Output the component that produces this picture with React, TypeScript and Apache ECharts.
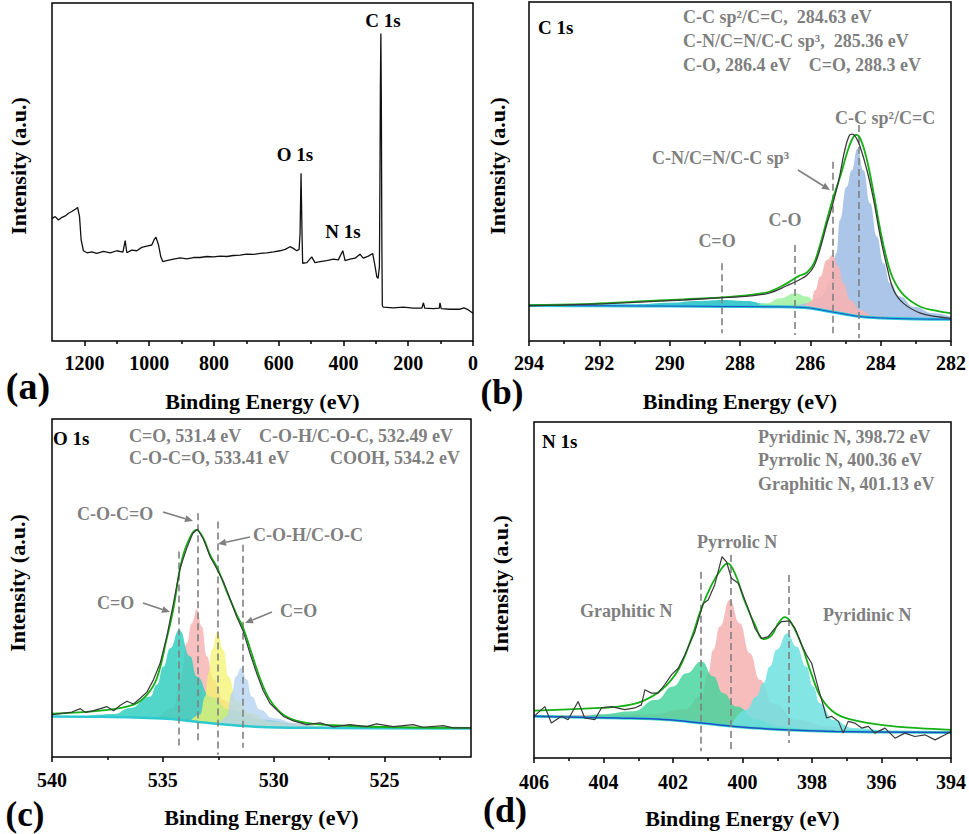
import React, { useEffect, useRef } from "react";
import * as echarts from "echarts";

const FONT = '"Liberation Serif", "Times New Roman", serif';
const GRAY = "#7f7f7f";

// ---------- Panel (a): survey spectrum ----------
const ticksA = [0, 200, 400, 600, 800, 1000, 1200];
const minorA = [100, 300, 500, 700, 900, 1100];
const surveyA = [
  [1300, 36.3], [1290, 36.8], [1280, 35.8], [1269, 36.6], [1259, 37.0], [1249, 37.8], [1239, 38.3],
  [1228, 39.0], [1221, 39.5], [1215, 36.8], [1210, 29.9], [1203, 26.7], [1192, 26.1], [1177, 26.4],
  [1162, 25.9], [1141, 26.5], [1120, 26.1], [1100, 26.7], [1081, 26.3], [1074, 29.7], [1069, 26.1],
  [1054, 26.9], [1038, 26.7], [1023, 27.7], [1007, 28.1], [992, 28.4], [985, 29.9], [979, 30.7],
  [971, 28.4], [964, 24.9], [958, 23.5], [946, 23.8], [925, 24.2], [904, 24.6], [884, 24.3],
  [863, 24.7], [843, 24.7], [822, 25.0], [801, 24.9], [781, 25.1], [760, 25.0], [740, 25.3],
  [719, 25.4], [699, 25.7], [678, 25.6], [657, 25.9], [637, 26.1], [616, 26.4], [596, 26.7],
  [580, 27.1], [565, 27.9], [555, 27.4], [544, 26.7], [537, 27.1], [534, 31.9], [531, 49.6],
  [528, 31.9], [526, 23.0], [513, 23.2], [498, 24.9], [488, 23.2], [472, 23.5], [452, 23.8],
  [431, 24.2], [416, 24.0], [402, 26.7], [395, 23.8], [380, 24.2], [364, 24.5], [349, 25.7],
  [339, 24.5], [323, 25.1], [310, 25.9], [304, 23.0], [297, 19.0], [293, 18.5], [289, 22.0],
  [287.5, 45.0], [286, 75.0], [284.5, 91.0], [283, 70.0], [281.5, 30.0], [280, 10.5], [277, 10.0],
  [246, 9.8], [215, 10.0], [184, 9.7], [158, 9.7], [153, 11.3], [149, 9.7], [122, 9.6], [104, 9.7],
  [102, 11.3], [98, 9.6], [71, 9.4], [40, 9.4], [28, 9.8], [14, 9.2], [0, 8.2],
];

// ---------- Panel (b): C 1s ----------
const bgB = [[294, 10.5], [292, 10.4], [290, 10.3], [288.5, 10.2], [287.2, 10.1], [286.2, 9.9], [285.45, 8.7], [285, 7.9], [284.58, 7.2], [284, 6.8], [283, 6.5], [282, 6.4]];
const envB = [
  [294, 10.6], [292.4, 10.9], [291, 11.6], [289.6, 12.3], [288.6, 12.8], [287.7, 13.6], [287.15, 14.6],
  [286.67, 17.0], [286.32, 19.2], [286.1, 20.2], [285.9, 22.9], [285.72, 28.5], [285.53, 35.7],
  [285.34, 42.6], [285.15, 48.5], [284.96, 55.4], [284.82, 59.3], [284.7, 60.8], [284.58, 59.8],
  [284.39, 53.4], [284.2, 43.6], [284.01, 32.7], [283.82, 23.9], [283.63, 18.0], [283.35, 13.6],
  [282.87, 10.1], [282.4, 8.9], [282.02, 8.2],
];
const rawB = [
  [294, 10.4], [292.4, 10.8], [291, 11.4], [289.6, 12.1], [288.6, 12.7], [287.7, 13.3], [287.15, 14.2],
  [286.67, 16.3], [286.32, 18.0], [286.1, 19.4], [285.9, 22.0], [285.72, 27.3], [285.53, 34.5],
  [285.4, 39.0], [285.19, 47.5], [285.04, 55.4], [284.9, 60.5], [284.8, 61.0], [284.7, 60.0],
  [284.6, 57.8], [284.39, 50.4], [284.2, 41.6], [284.01, 30.8], [283.82, 21.9], [283.63, 15.0],
  [283.35, 11.1], [282.87, 8.2], [282.4, 7.2], [282.02, 6.7],
];
const ccB = [
  [286.4, 10.0], [286.1, 11.1], [285.72, 13.1], [285.4, 18.0], [285.26, 25.9], [285.16, 35.7],
  [284.97, 45.5], [284.82, 50.4], [284.66, 56.8], [284.49, 50.4], [284.3, 40.6], [284.11, 30.8],
  [283.92, 22.9], [283.73, 17.0], [283.45, 13.1], [283.06, 10.1], [282.49, 8.2], [282.02, 7.2],
];
const cnB = [[286.2, 9.9], [285.99, 11.6], [285.86, 15.0], [285.72, 19.0], [285.53, 23.9], [285.36, 25.4], [285.2, 21.9], [285.06, 17.0], [284.87, 12.1], [284.58, 9.1], [284.2, 7.5], [283.63, 6.7]];
const coB = [[288.2, 10.2], [287.62, 10.5], [287.24, 11.1], [286.86, 12.6], [286.43, 14.1], [286.1, 13.1], [285.81, 11.1], [285.53, 9.6], [285.24, 8.4]];
const c2oB = [[292.5, 10.4], [291, 10.8], [290, 11.3], [289.2, 11.8], [288.5, 12.1], [287.8, 11.8], [287.3, 11.0], [286.8, 10.1]];
const dashB = [[288.52, 22.9, 2.3], [286.45, 28.3, 1.8], [285.37, 52.9, 2.3], [284.61, 63.7, 0.8]];

// ---------- Panel (c): O 1s ----------
const ticksC = [525, 530, 535, 540];
const minorC = [522.5, 527.5, 532.5, 537.5];
const bgC = [[540, 12.0], [538, 11.9], [536.3, 11.7], [534.8, 11.3], [533.3, 10.3], [531.8, 9.4], [530.3, 8.8], [527.3, 8.6], [521.1, 8.4]];
const envC = [
  [540, 12.8], [537.82, 13.7], [536.32, 15.5], [535.72, 18.4], [535.27, 23.3], [534.82, 35.2],
  [534.52, 44.0], [534.22, 55.9], [533.92, 62.8], [533.47, 67.2], [533.17, 64.7], [532.87, 59.8],
  [532.54, 55.9], [532.12, 49.0], [531.67, 42.1], [531.37, 38.1], [531.07, 32.2], [530.62, 23.3],
  [530.17, 16.9], [529.56, 12.5], [528.81, 10.5], [527.31, 9.4], [524.31, 8.8], [521.1, 8.6],
];
const rawC = [
  [540, 12.5], [539.47, 13.0], [539.1, 13.3], [538.72, 14.3], [538.5, 13.2], [538.12, 13.7],
  [537.52, 14.9], [537.22, 13.7], [536.92, 15.3], [536.62, 16.5], [536.32, 15.7], [536.02, 17.4],
  [535.72, 19.2], [535.42, 22.9], [535.12, 27.8], [534.82, 35.7], [534.52, 45.5], [534.22, 55.9],
  [533.92, 61.8], [533.65, 66.2], [533.44, 67.4], [533.17, 64.5], [532.87, 59.3], [532.57, 55.7],
  [532.27, 51.9], [531.97, 46.8], [531.67, 41.5], [531.37, 37.1], [531.07, 30.7], [530.77, 24.8],
  [530.47, 19.6], [530.17, 15.9], [529.56, 12.0], [529.11, 10.7], [528.51, 9.6], [527.91, 10.1],
  [527.31, 8.9], [526.56, 9.6], [525.81, 9.0], [525.36, 9.8], [524.61, 9.0], [523.71, 9.6],
  [523.26, 8.8], [522.36, 9.3], [521.91, 8.6], [521.1, 8.6],
];
const coohC = [[538.57, 11.9], [537.22, 12.7], [536.47, 14.5], [535.57, 17.9], [535.27, 21.4], [534.97, 26.8], [534.67, 32.2], [534.26, 37.6], [533.77, 29.8], [533.47, 23.8], [532.87, 17.9], [531.97, 14.0], [530.47, 11.0], [528.81, 8.7]];
const cocoC = [[535.2, 11.5], [534.52, 14.5], [534.22, 22.4], [533.92, 33.7], [533.69, 39.6], [533.47, 43.7], [533.24, 38.6], [533.02, 29.8], [532.72, 22.9], [532.27, 16.9], [531.52, 13.0], [530.47, 11.0], [529.26, 10.0], [528.06, 9.1]];
const cohC = [[533.77, 10.6], [533.32, 12.5], [533.09, 17.9], [532.94, 24.8], [532.79, 31.7], [532.54, 37.1], [532.27, 31.7], [532.04, 23.8], [531.67, 16.9], [531.07, 13.0], [530.17, 10.5], [528.96, 9.6], [527.5, 8.7]];
const coC = [[532.42, 10.0], [532.12, 12.0], [531.89, 18.9], [531.7, 23.8], [531.47, 26.3], [531.22, 22.9], [530.99, 17.9], [530.62, 14.0], [530.02, 11.5], [528.96, 10.0], [527.91, 9.1], [526.5, 8.6]];
const dashC = [[534.29, 60.8, 2.7], [533.44, 72.1, 4.1], [532.54, 69.7, 0.7], [531.41, 62.8, 2.7]];

// ---------- Panel (d): N 1s ----------
const bgD = [[406, 12.4], [403.58, 11.9], [402.14, 11.4], [401.18, 10.4], [400.22, 9.4], [398.78, 8.4], [397.34, 7.9], [394, 7.6]];
const envD = [
  [406, 14.1], [404.54, 14.7], [403.58, 15.3], [402.91, 16.8], [402.33, 20.3], [401.85, 26.2],
  [401.47, 35.6], [401.18, 44.6], [400.89, 51.5], [400.6, 56.4], [400.43, 57.9], [400.22, 55.0],
  [399.93, 46.5], [399.64, 39.6], [399.4, 35.4], [399.16, 36.6], [398.97, 40.1], [398.78, 41.9],
  [398.59, 40.1], [398.3, 33.7], [398.01, 24.8], [397.73, 17.8], [397.34, 13.4], [396.86, 11.4],
  [395.9, 9.7], [394.94, 8.9], [394, 8.4],
];
const rawD = [
  [406, 12.4], [405.69, 15.3], [405.5, 10.4], [405.21, 12.4], [405.02, 11.4], [404.73, 16.8],
  [404.54, 11.9], [404.25, 11.4], [404.06, 14.9], [403.77, 15.3], [403.39, 14.4], [403.1, 14.9],
  [402.91, 15.8], [402.81, 20.3], [402.62, 19.3], [402.43, 19.3], [402.24, 21.8], [402.04, 24.8],
  [401.85, 26.7], [401.66, 30.7], [401.37, 37.6], [401.13, 46.0], [400.99, 47.0], [400.8, 51.5],
  [400.59, 59.9], [400.46, 58.4], [400.32, 53.5], [400.12, 52.0], [399.84, 44.6], [399.64, 38.6],
  [399.45, 35.6], [399.26, 36.1], [399.07, 38.6], [398.88, 40.6], [398.64, 40.8], [398.49, 38.6],
  [398.3, 33.7], [398.16, 30.7], [398.01, 28.2], [397.82, 20.8], [397.68, 15.8], [397.58, 11.9],
  [397.44, 12.4], [397.24, 10.9], [397.1, 7.4], [396.96, 10.9], [396.77, 10.4], [396.57, 8.9],
  [396.38, 9.4], [396.19, 7.4], [395.9, 8.9], [395.61, 5.9], [395.33, 7.4], [395.04, 6.4],
  [394.75, 6.9], [394.46, 5.4], [394.17, 6.9], [394, 7.9],
];
const graphD = [[404.54, 12.2], [404.11, 13.0], [403.15, 13.9], [402.48, 17.3], [402.0, 21.3], [401.61, 25.2], [401.18, 28.7], [400.84, 24.3], [400.56, 19.3], [400.17, 15.3], [399.6, 11.4], [398.93, 9.4], [398.3, 8.6]];
const pyrrD = [[405.5, 12.6], [404, 12.9], [402.62, 13.0], [401.66, 14.5], [401.18, 18.5], [400.99, 25.2], [400.84, 32.2], [400.65, 39.1], [400.37, 47.0], [400.08, 40.1], [399.79, 31.2], [399.5, 23.3], [399.12, 16.3], [398.45, 11.4], [397.49, 9.4], [396.86, 8.4]];
const pyriD = [[400.32, 9.7], [399.88, 14.4], [399.6, 18.3], [399.4, 22.3], [399.21, 27.2], [399.02, 32.2], [398.71, 37.1], [398.45, 33.2], [398.16, 27.2], [397.97, 21.3], [397.77, 16.3], [397.39, 11.4], [396.81, 8.9], [395.9, 7.9]];
const dashD = [[401.2, 55.4, 2.0], [400.35, 60.4, 2.5], [398.67, 54.5, 4.5]];

// ---------- helpers ----------
const plain = (v: number) => String(v);
const labelStyle = { color: "#000", fontSize: 20, fontWeight: "bold", fontFamily: FONT, formatter: plain };
const nameStyle = { color: "#000", fontSize: 22, fontWeight: "bold", fontFamily: FONT };
const tickLine = { color: "#000", width: 1.5 };

function xAxisMain(grid: number, min: number, max: number, extra: any) {
  return {
    type: "value", gridIndex: grid, position: "bottom", min, max, inverse: true,
    axisLine: { show: false }, splitLine: { show: false },
    name: "Binding Energy (eV)", nameLocation: "middle", nameGap: 49, nameTextStyle: nameStyle,
    ...extra,
  };
}

function minorAxis(grid: number, min: number, max: number, values: number[]) {
  return {
    type: "value", gridIndex: grid, position: "bottom", min, max, inverse: true,
    axisLine: { show: false }, splitLine: { show: false }, axisLabel: { show: false },
    axisTick: { show: true, length: 3, customValues: values, lineStyle: tickLine },
  };
}

function yAxis(grid: number) {
  return {
    type: "value", gridIndex: grid, min: 0, max: 100,
    axisLine: { show: false }, axisTick: { show: false }, axisLabel: { show: false }, splitLine: { show: false },
  };
}

function comp(idx: number, data: number[][], color: string, opacity: number) {
  return {
    type: "line", xAxisIndex: idx, yAxisIndex: idx, data, symbol: "none", smooth: 0.5, smoothMonotone: "x",
    lineStyle: { width: 0, opacity: 0 }, areaStyle: { color, opacity }, z: 2, silent: true,
  };
}

function bgSeries(idx: number, data: number[][], lines: { color: string; width: number }[]) {
  const out: any[] = [{
    type: "line", xAxisIndex: idx, yAxisIndex: idx, data, symbol: "none", smooth: 0.4,
    lineStyle: { width: 0, opacity: 0 }, areaStyle: { color: "#ffffff", opacity: 1 }, z: 3, silent: true,
  }];
  lines.forEach((l, i) => out.push({
    type: "line", xAxisIndex: idx, yAxisIndex: idx, data, symbol: "none", smooth: 0.4,
    lineStyle: { color: l.color, width: l.width }, z: 4 + i * 0.1, silent: true,
  }));
  return out;
}

function lineSeries(idx: number, data: number[][], color: string, width: number, smooth: number | boolean, z: number, dashes?: number[][]) {
  const s: any = {
    type: "line", xAxisIndex: idx, yAxisIndex: idx, data, symbol: "none", smooth,
    lineStyle: { color, width }, z, silent: true,
  };
  if (dashes) {
    s.markLine = {
      silent: true, symbol: ["none", "none"], label: { show: false },
      lineStyle: { color: "#808080", width: 1.6, type: [7, 4] },
      emphasis: { disabled: true },
      data: dashes.map(([x, y1, y2]) => [{ coord: [x, y1] }, { coord: [x, y2] }]),
    };
  }
  return s;
}

function txt(x: number, y: number, text: string, size: number, color = "#000", align = "left", rotation = 0) {
  return {
    type: "text", x, y, rotation, z: 100, silent: true,
    style: {
      text, fill: color, fontSize: size, fontWeight: "bold", fontFamily: FONT,
      align, verticalAlign: "middle", textAlign: align, textVerticalAlign: "middle",
    },
  };
}

function arrow(x1: number, y1: number, x2: number, y2: number) {
  const dx = x2 - x1, dy = y2 - y1, L = Math.hypot(dx, dy);
  const ux = dx / L, uy = dy / L, hl = 8, hw = 3.5;
  const bx = x2 - ux * hl, by = y2 - uy * hl;
  return [
    { type: "line", z: 100, silent: true, shape: { x1, y1, x2: bx, y2: by }, style: { stroke: GRAY, lineWidth: 1.6 } },
    { type: "polygon", z: 100, silent: true, shape: { points: [[x2, y2], [bx + uy * hw, by - ux * hw], [bx - uy * hw, by + ux * hw]] }, style: { fill: GRAY } },
  ];
}

export default function App() {
  const ref = useRef<HTMLDivElement>(null);
  useEffect(() => {
    document.body.style.margin = "0";
    const chart = echarts.init(ref.current!, undefined, { renderer: "svg" });
    const grid = (left: number, top: number, width: number, height: number) => ({
      left, top, width, height, show: true, borderColor: "#000", borderWidth: 1.5, backgroundColor: "transparent", z: 10,
    });
    const option: any = {
      animation: false,
      backgroundColor: "#fff",
      grid: [grid(52, 3, 421, 338), grid(529, 2, 422, 339), grid(52, 419, 419, 338), grid(534, 422, 417, 336)],
      xAxis: [
        xAxisMain(0, 0, 1300, {
          axisTick: { show: true, length: 5, customValues: ticksA, lineStyle: tickLine },
          axisLabel: { margin: 12, customValues: ticksA, ...labelStyle },
        }),
        xAxisMain(1, 282, 294, {
          interval: 2,
          axisTick: { show: true, length: 5, lineStyle: tickLine },
          minorTick: { show: true, splitNumber: 2, length: 3, lineStyle: tickLine },
          axisLabel: { margin: 12, ...labelStyle },
        }),
        xAxisMain(2, 521.1, 540, {
          axisTick: { show: true, length: 5, customValues: ticksC, lineStyle: tickLine },
          axisLabel: { margin: 13, customValues: ticksC, ...labelStyle },
        }),
        xAxisMain(3, 394, 406, {
          interval: 2,
          axisTick: { show: true, length: 5, lineStyle: tickLine },
          minorTick: { show: true, splitNumber: 2, length: 3, lineStyle: tickLine },
          axisLabel: { margin: 14, ...labelStyle },
        }),
        minorAxis(0, 0, 1300, minorA),
        minorAxis(2, 521.1, 540, minorC),
      ],
      yAxis: [yAxis(0), yAxis(1), yAxis(2), yAxis(3)],
      series: [
        // (a)
        lineSeries(0, surveyA, "#111", 1.3, false, 6),
        // (b)
        comp(1, c2oB, "#2ec4c4", 0.9),
        comp(1, coB, "#9ff09f", 0.85),
        comp(1, ccB, "#a7c3e8", 0.95),
        comp(1, cnB, "#f6b2b2", 0.9),
        ...bgSeries(1, bgB, [{ color: "#28c8d6", width: 3 }, { color: "#1f4fc8", width: 1 }]),
        lineSeries(1, envB, "#14b014", 1.8, 0.4, 5),
        lineSeries(1, rawB, "#3a3a3a", 1.3, 0.4, 6, dashB),
        // (c)
        comp(2, cocoC, "#f7b0b0", 0.8),
        comp(2, coohC, "#34cfc0", 0.85),
        comp(2, cohC, "#f3f36e", 0.75),
        comp(2, coC, "#b0d2f2", 0.75),
        ...bgSeries(2, bgC, [{ color: "#2cc9d0", width: 2.5 }]),
        lineSeries(2, envC, "#14b014", 1.8, 0.4, 5),
        lineSeries(2, rawC, "#3a3a3a", 1.2, false, 6, dashC),
        // (d)
        comp(3, pyrrD, "#f6b2b2", 0.85),
        comp(3, graphD, "#3fd39a", 0.8),
        comp(3, pyriD, "#6fe0e0", 0.85),
        ...bgSeries(3, bgD, [{ color: "#3fd8c8", width: 3 }, { color: "#1f50c8", width: 1.5 }]),
        lineSeries(3, envD, "#14b014", 1.8, 0.4, 5),
        lineSeries(3, rawD, "#3a3a3a", 1.2, false, 6, dashD),
      ],
      graphic: [
        // y-axis names
        txt(18, 166, "Intensity (a.u.)", 22, "#000", "center", Math.PI / 2),
        txt(497, 166, "Intensity (a.u.)", 22, "#000", "center", Math.PI / 2),
        txt(17, 583, "Intensity (a.u.)", 22, "#000", "center", Math.PI / 2),
        txt(500, 584, "Intensity (a.u.)", 22, "#000", "center", Math.PI / 2),
        // panel letters
        txt(28, 386, "(a)", 38, "#000", "center"),
        txt(502, 392, "(b)", 35, "#000", "center"),
        txt(25, 814, "(c)", 35, "#000", "center"),
        txt(505, 810, "(d)", 36, "#000", "center"),
        // (a) labels
        txt(383, 20, "C 1s", 19, "#000", "center"),
        txt(295, 154, "O 1s", 19, "#000", "center"),
        txt(343, 231, "N 1s", 19, "#000", "center"),
        // (b)
        txt(538, 27, "C 1s", 19),
        txt(683, 17, "C-C sp²/C=C,  284.63 eV", 18, GRAY),
        txt(683, 41, "C-N/C=N/C-C sp³,  285.36 eV", 18, GRAY),
        txt(683, 65, "C-O, 286.4 eV    C=O, 288.3 eV", 18, GRAY),
        txt(835, 118, "C-C sp²/C=C", 18, GRAY),
        txt(652, 158, "C-N/C=N/C-C sp³", 18, GRAY),
        txt(785, 220, "C-O", 18, GRAY, "center"),
        txt(717, 241, "C=O", 18, GRAY, "center"),
        ...arrow(798, 170, 830, 190),
        // (c)
        txt(53, 438, "O 1s", 19),
        txt(129, 436, "C=O, 531.4 eV", 18, GRAY),
        txt(259, 436, "C-O-H/C-O-C, 532.49 eV", 18, GRAY),
        txt(129, 458, "C-O-C=O, 533.41 eV", 18, GRAY),
        txt(330, 458, "COOH, 534.2 eV", 18, GRAY),
        txt(77, 514, "C-O-C=O", 18, GRAY),
        txt(253, 535, "C-O-H/C-O-C", 18, GRAY),
        txt(97, 603, "C=O", 18, GRAY),
        txt(280, 611, "C=O", 18, GRAY),
        ...arrow(163, 512, 193, 521),
        ...arrow(250, 537, 218, 544),
        ...arrow(143, 603, 170, 612),
        ...arrow(272, 612, 245, 623),
        // (d)
        txt(542, 441, "N 1s", 19),
        txt(758, 437, "Pyridinic N, 398.72 eV", 18, GRAY),
        txt(758, 460, "Pyrrolic N, 400.36 eV", 18, GRAY),
        txt(758, 484, "Graphitic N, 401.13 eV", 18, GRAY),
        txt(697, 542, "Pyrrolic N", 18, GRAY),
        txt(580, 611, "Graphitic N", 18, GRAY),
        txt(823, 615, "Pyridinic N", 18, GRAY),
      ],
    };
    chart.setOption(option);
    return () => chart.dispose();
  }, []);
  return <div ref={ref} style={{ width: 969, height: 834 }} />;
}
